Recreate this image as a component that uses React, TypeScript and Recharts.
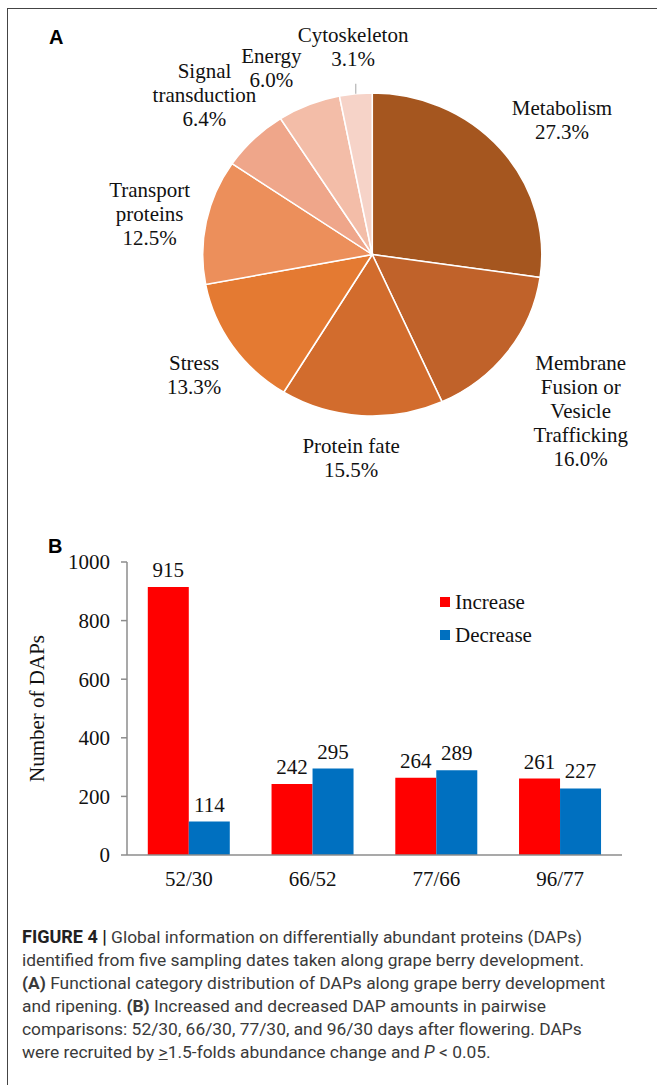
import React from 'react';
import {
  PieChart, Pie, Cell, BarChart, Bar, XAxis, YAxis, Legend, LabelList, Label,
} from 'recharts';

// Panel A: functional categories (%)
const categoryLines = [
  ['Metabolism'],
  ['Membrane', 'Fusion or', 'Vesicle', 'Trafficking'],
  ['Protein fate'],
  ['Stress'],
  ['Transport', 'proteins'],
  ['Signal', 'transduction'],
  ['Energy'],
  ['Cytoskeleton'],
];
const categoryShares = [27.3, 16.0, 15.5, 13.3, 12.5, 6.4, 6.0, 3.1];

// Panel B: DAP counts per comparison
const comparisons = ['52/30', '66/52', '77/66', '96/77'];
const increased = [915, 242, 264, 261];
const decreased = [114, 295, 289, 227];
const yTicks = [0, 200, 400, 600, 800, 1000];

const sliceColors = ['#A5561F', '#C0622A', '#D26C2D', '#E47A32', '#EC8F5B', '#EFA68A', '#F3BDA8', '#F6D3C8'];
// where each label sits around the pie: distance from centre and angle nudge (deg)
const labelPlacement = [
  { r: 222, da: -5.4 },
  { r: 256, da: -2.2 },
  { r: 210, da: -1.9 },
  { r: 211, da: 1.9 },
  { r: 215, da: 2.2 },
  { r: 222, da: 1.8 },
  { r: 205, da: 6.0 },
  { r: 203, da: -0.4 },
];

const SERIF = '"Liberation Serif", "Times New Roman", serif';
const RAD = Math.PI / 180;

const pieData = categoryLines.map((lines, i) => ({ name: lines.join(' '), value: categoryShares[i], lines }));
const barData = comparisons.map((c, i) => ({ name: c, Increase: increased[i], Decrease: decreased[i] }));

const renderPieLabel = (props: any) => {
  const { cx, cy, midAngle, outerRadius, index } = props;
  const place = labelPlacement[index];
  const ang = (midAngle + place.da) * RAD;
  const x = cx + place.r * Math.cos(ang);
  const y = cy - place.r * Math.sin(ang) - 5;
  const lines = [...categoryLines[index], `${categoryShares[index].toFixed(1)}%`];
  const lh = 24;
  const top = y - ((lines.length - 1) * lh) / 2;
  const edgeX = cx + outerRadius * Math.cos(midAngle * RAD);
  const edgeY = cy - outerRadius * Math.sin(midAngle * RAD);
  return (
    <g key={`lbl-${index}`}>
      {index === categoryLines.length - 1 && (
        <line x1={edgeX} y1={edgeY} x2={edgeX} y2={edgeY - 10} stroke="#aaa" strokeWidth={1} />
      )}
      <text x={x} y={top} textAnchor="middle" dominantBaseline="central" fontFamily={SERIF} fontSize={20} fill="#111">
        {lines.map((t, k) => (
          <tspan key={k} x={x} dy={k === 0 ? 0 : lh}>{t}</tspan>
        ))}
      </text>
    </g>
  );
};

const renderLegend = () => (
  <div style={{ fontFamily: SERIF, fontSize: 21, color: '#111' }}>
    {[
      { label: 'Increase', color: '#FF0000' },
      { label: 'Decrease', color: '#0070C0' },
    ].map((s) => (
      <div key={s.label} style={{ display: 'flex', alignItems: 'center', height: 22, marginBottom: 11 }}>
        <span style={{ width: 10, height: 10, background: s.color, marginRight: 5, display: 'inline-block' }} />
        <span style={{ lineHeight: '22px' }}>{s.label}</span>
      </div>
    ))}
  </div>
);

const renderYLabel = (props: any) => {
  const vb = props.viewBox || { y: 22, height: 293 };
  const cy = vb.y + vb.height / 2;
  return (
    <text x={37} y={cy} transform={`rotate(-90, 37, ${cy})`} textAnchor="middle" dominantBaseline="central"
      fontFamily={SERIF} fontSize={21} fill="#111">
      Number of DAPs
    </text>
  );
};

const panelLetter: React.CSSProperties = {
  position: 'absolute', fontFamily: '"Liberation Sans", Arial, sans-serif', fontWeight: 'bold', fontSize: 20, color: '#000',
};

export default function App() {
  return (
    <div style={{ position: 'absolute', left: 0, top: 0, width: 657, height: 1085, background: '#fff', overflow: 'hidden' }}>
      <div style={{ position: 'absolute', left: 7, top: 8, width: 700, height: 1100, borderLeft: '1.5px solid #444', borderTop: '1.5px solid #444' }} />
      <div style={{ ...panelLetter, left: 49, top: 26 }}>A</div>
      <div style={{ ...panelLetter, left: 48, top: 535 }}>B</div>

      {/* the published pie is slightly stretched horizontally */}
      <div style={{ position: 'absolute', left: 0, top: 0, transform: 'scaleX(1.05)', transformOrigin: '367px 0' }}>
        <PieChart width={657} height={500}>
          <Pie
            data={pieData}
            dataKey="value"
            cx={367}
            cy={249.5}
            outerRadius={161.5}
            startAngle={90}
            endAngle={-270}
            stroke="#fff"
            strokeWidth={1.5}
            labelLine={false}
            label={renderPieLabel}
            isAnimationActive={false}
          >
            {pieData.map((d, i) => <Cell key={d.name} fill={sliceColors[i]} />)}
          </Pie>
        </PieChart>
      </div>

      <div style={{ position: 'absolute', left: 0, top: 540 }}>
        <BarChart width={657} height={360} data={barData} margin={{ top: 22, right: 35, bottom: 5, left: 0 }}
          barCategoryGap="16.8%" barGap={0}>
          <XAxis dataKey="name" height={40} tickLine={false} tickSize={0} tickMargin={16}
            axisLine={{ stroke: '#8c8c8c', strokeWidth: 1.5 }}
            tick={{ fontFamily: SERIF, fontSize: 21, fill: '#111' }} />
          <YAxis width={127} domain={[0, 1000]} ticks={yTicks} interval={0} tickSize={6} tickMargin={11}
            axisLine={{ stroke: '#8c8c8c', strokeWidth: 1.5 }} tickLine={{ stroke: '#8c8c8c', strokeWidth: 1.5 }}
            tick={{ fontFamily: SERIF, fontSize: 21, fill: '#111' }}>
            <Label content={renderYLabel} />
          </YAxis>
          <Legend layout="horizontal" verticalAlign="middle" align="center" content={renderLegend}
            wrapperStyle={{ left: 440, top: 51, width: 120, height: 70 }} />
          <Bar dataKey="Increase" fill="#FF0000" isAnimationActive={false}>
            <LabelList dataKey="Increase" position="top" offset={10} style={{ fontFamily: SERIF, fontSize: 21, fill: '#111' }} />
          </Bar>
          <Bar dataKey="Decrease" fill="#0070C0" isAnimationActive={false}>
            <LabelList dataKey="Decrease" position="top" offset={10} style={{ fontFamily: SERIF, fontSize: 21, fill: '#111' }} />
          </Bar>
        </BarChart>
      </div>

      <div style={{ position: 'absolute', left: 22, top: 925, width: 630, fontFamily: 'Roboto, "Liberation Sans", sans-serif',
        fontSize: 17.4, lineHeight: '23px', color: '#3a3a3a', whiteSpace: 'nowrap' }}>
        <b style={{ color: '#222', fontSize: 18 }}>FIGURE 4 |</b> Global information on differentially abundant proteins (DAPs)<br />
        identified from five sampling dates taken along grape berry development.<br />
        <b>(A)</b> Functional category distribution of DAPs along grape berry development<br />
        and ripening. <b>(B)</b> Increased and decreased DAP amounts in pairwise<br />
        comparisons: 52/30, 66/30, 77/30, and 96/30 days after flowering. DAPs<br />
        were recruited by <u>&gt;</u>1.5-folds abundance change and <i>P</i> &lt; 0.05.
      </div>
    </div>
  );
}
